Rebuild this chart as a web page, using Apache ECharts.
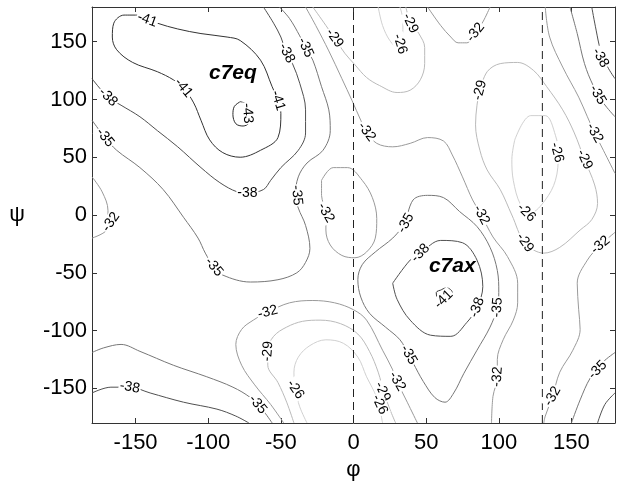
<!DOCTYPE html>
<html>
<head>
<meta charset="utf-8">
<script src="https://cdn.jsdelivr.net/npm/echarts@6/dist/echarts.min.js"></script>
<style>
  html, body { margin: 0; background: #fff; }
  #main { width: 622px; height: 488px; }
</style>
</head>
<body>
<div id="main"></div>
<script>
// axis ticks
const xTicks = [-150, -100, -50, 0, 50, 100, 150];
const yTicks = [-150, -100, -50, 0, 50, 100, 150];
const dashedPhi = [0, 130];

// contour lines, [phi, psi]
const eq43 = [[-78,98],[-74,96],[-72,89],[-72,80],[-76,77],[-81,79],[-83,87],[-82,94]];
const eq41 = [[-149,173],[-135,166],[-121,161],[-105,157],[-87,154],[-78,151],[-64,134],[-56,111],[-52,99],[-50,88],[-52,67],[-64,56],[-78,50],[-90,54],[-99,65],[-105,82],[-110,97],[-117,110],[-124,117],[-135,124],[-152,132],[-163,143],[-166,154],[-165,166],[-158,173]];
const eq38 = [[-180,118],[-169,102],[-160,95],[-147,85],[-135,73],[-121,59],[-105,41],[-92,28],[-80,20],[-73,19],[-62,22],[-57,30],[-50,41],[-38,56],[-33,71],[-33,91],[-37,114],[-42,131],[-46,140],[-50,154],[-55,166],[-62,180]];
const long35 = [[-51,180],[-44,170],[-37,155],[-33,145],[-28,134],[-22,111],[-17,91],[-16,73],[-21,56],[-32,45],[-38,33],[-40,17],[-38,6],[-33,-9],[-30,-29],[-33,-41],[-39,-50],[-52,-56],[-71,-58],[-90,-52],[-96,-45],[-102,-33],[-107,-20],[-117,-2],[-131,22],[-147,41],[-163,56],[-171,67],[-180,82]];
const mid32 = [[-33,180],[-26,164],[-17,142],[-8,118],[-1,99],[5,82],[9,72],[16,62],[27,59],[39,62],[51,67],[62,64],[68,52],[75,33],[82,13],[88,0],[96,-19],[106,-36],[113,-59],[113,-76],[110,-91],[103,-108],[99,-125],[99,-140],[96,-157],[95,-180]];
const small32 = [[-22,30],[-14,41],[-4,41],[6,30],[13,15],[16,-3],[15,-20],[9,-32],[1,-37],[-8,-35],[-16,-26],[-19,-13],[-19,2],[-22,17]];
const ax35 = [[36,-7],[41,13],[51,17],[62,15],[73,3],[85,-10],[94,-28],[99,-48],[100,-67],[99,-80],[94,-97],[85,-117],[76,-137],[69,-154],[63,-162],[56,-158],[48,-144],[41,-128],[38,-121],[32,-108],[22,-97],[11,-85],[5,-71],[3,-56],[6,-43],[15,-32],[27,-20]];
const ax38 = [[27,-59],[39,-39],[46,-33],[60,-22],[75,-24],[85,-39],[89,-62],[85,-80],[78,-93],[67,-105],[53,-104],[39,-91],[30,-73]];
const ax41 = [[60,-65],[64,-63],[68,-67],[67,-73],[62,-76],[58,-73],[57,-67]];
const top32 = [[51,180],[60,164],[67,154],[72,149],[78,149],[84,158],[89,167],[94,180]];
const top29 = [[-28,180],[-19,164],[-13,153],[-6,140],[1,130],[9,119],[18,112],[30,106],[39,108],[46,117],[49,131],[49,145],[45,157],[39,168],[36,180]];
const top26 = [[17,180],[20,164],[25,151],[31,144],[34,153],[34,168],[32,180]];
const right29 = [[87,108],[92,124],[101,131],[113,132],[124,125],[133,111],[144,91],[152,71],[159,48],[166,26],[168,10],[164,-4],[156,-13],[142,-28],[131,-33],[118,-24],[109,0],[101,22],[92,39],[87,56],[84,78],[85,95]];
const right26 = [[111,65],[122,86],[132,86],[139,69],[141,52],[139,30],[132,13],[122,2],[115,9],[110,30],[109,48]];
const rt38 = [[164,180],[167,160],[170,143],[175,128],[180,118]];
const rt35 = [[149,180],[154,157],[159,131],[165,112],[172,97],[180,85]];
const rt32 = [[132,180],[135,154],[144,128],[155,102],[161,85],[166,71],[172,56],[180,36]];
const left32 = [[-180,33],[-173,20],[-169,4],[-169,-11],[-180,-20]];
const rb32 = [[180,-15],[170,-26],[161,-39],[154,-59],[155,-82],[156,-99],[151,-117],[142,-136],[137,-157],[132,-174],[131,-180]];
const rb35 = [[180,-119],[172,-127],[163,-141],[156,-160],[150,-180]];
const rb38 = [[180,-154],[173,-164],[168,-180]];
const lb38 = [[-180,-154],[-167,-149],[-154,-149],[-140,-154],[-117,-162],[-94,-168],[-81,-174],[-72,-180]];
const lb35 = [[-180,-119],[-172,-115],[-160,-112],[-147,-118],[-124,-130],[-101,-140],[-83,-149],[-71,-158],[-63,-168],[-56,-180]];
const bot32 = [[-48,-180],[-57,-164],[-68,-147],[-77,-130],[-81,-112],[-77,-99],[-69,-91],[-59,-84],[-44,-76],[-28,-74],[-13,-76],[0,-82],[9,-91],[20,-117],[27,-134],[30,-144],[37,-162],[44,-180]];
const bot29 = [[-41,-180],[-46,-162],[-52,-145],[-59,-130],[-59,-117],[-55,-105],[-46,-97],[-35,-92],[-23,-91],[-9,-94],[3,-103],[11,-118],[17,-136],[21,-154],[25,-168],[29,-180]];
const bot26 = [[-32,-180],[-37,-166],[-40,-151],[-41,-136],[-38,-123],[-30,-113],[-19,-108],[-7,-111],[3,-123],[9,-140],[16,-158],[20,-180]];

// [phi, psi, text, angle]
const contourLabels = [
  [-142,169,'-41',-20], [-117,110,'-41',-50], [-52,99,'-41',-73], [-73,88,'-43',-85],
  [-169,102,'-38',-45], [-73,19,'-38',0], [-46,140,'-38',-63],
  [-33,145,'-35',-65], [-39,17,'-35',-85], [-96,-45,'-35',-50], [-171,67,'-35',-51],
  [9,72,'-32',-53], [88,0,'-32',-62], [99,-140,'-32',85], [-19,2,'-32',-60],
  [36,-7,'-35',61], [99,-80,'-35',85], [38,-121,'-35',-60],
  [46,-33,'-38',45], [85,-80,'-38',70], [62,-73,'-41',45],
  [84,158,'-32',51], [-13,153,'-29',-54], [39,166,'-29',-65], [32,148,'-26',-72],
  [87,108,'-29',75], [159,48,'-29',-65], [118,-24,'-29',-55],
  [140,54,'-26',-75], [119,2,'-26',-45],
  [170,136,'-38',-60], [168,104,'-35',-60], [166,71,'-32',-60],
  [-167,-6,'-32',55], [170,-26,'-32',40], [137,-157,'-32',60], [168,-134,'-35',45],
  [-154,-149,'-38',-10], [-66,-164,'-35',-50], [-59,-84,'-32',15], [30,-144,'-32',-60],
  [-59,-118,'-29',85], [20,-153,'-29',-65], [-40,-151,'-26',-55], [18,-164,'-26',-65]
];

const regionNames = [['c7eq', -83, 123], ['c7ax', 68, -44]];

const contours = [
  [-43, eq43, true], [-41, eq41, true], [-38, eq38, false], [-35, long35, false],
  [-32, mid32, false], [-32, small32, true], [-35, ax35, true], [-38, ax38, true],
  [-41, ax41, true], [-32, top32, false], [-29, top29, false], [-26, top26, false],
  [-29, right29, true], [-26, right26, true], [-38, rt38, false], [-35, rt35, false],
  [-32, rt32, false], [-32, left32, false], [-32, rb32, false], [-35, rb35, false],
  [-38, rb38, false], [-38, lb38, false], [-35, lb35, false], [-32, bot32, false],
  [-29, bot29, false], [-26, bot26, false]
];

const levelColor = {
  '-43': '#2a2a2a', '-41': '#333333', '-38': '#505050', '-35': '#777777',
  '-32': '#9a9a9a', '-29': '#bababa', '-26': '#d0d0d0'
};

const font = '"Liberation Sans", Arial, sans-serif';

const series = [];
contours.forEach(function (c) {
  series.push({
    type: 'line',
    data: c[2] ? c[1].concat([c[1][0]]) : c[1],
    symbol: 'none',
    smooth: 0.35,
    silent: true,
    lineStyle: { color: levelColor[c[0]], width: 1 },
    z: 2
  });
});
dashedPhi.forEach(function (p) {
  series.push({
    type: 'line',
    data: [[p, -180], [p, 180]],
    symbol: 'none',
    silent: true,
    lineStyle: { color: '#222', width: 1, type: [8, 5] },
    z: 3
  });
});
series.push({
  type: 'scatter',
  symbolSize: 0,
  silent: true,
  z: 5,
  itemStyle: { opacity: 1 },
  data: contourLabels.map(function (l) {
    return { value: [l[0], l[1]], name: l[2], label: { rotate: l[3] } };
  }),
  label: {
    show: true, formatter: '{b}', position: 'inside', color: '#000',
    fontSize: 14, fontFamily: font, backgroundColor: '#fff', padding: [0, 1]
  }
});
series.push({
  type: 'scatter',
  symbolSize: 0,
  silent: true,
  z: 6,
  itemStyle: { opacity: 1 },
  data: regionNames.map(function (r) { return { value: [r[1], r[2]], name: r[0] }; }),
  label: {
    show: true, formatter: '{b}', position: 'inside', color: '#000',
    fontSize: 21, fontWeight: 'bold', fontStyle: 'italic', fontFamily: font
  }
});

const axisColor = '#333';
function xAx(pos, main) {
  return {
    type: 'value', min: -180, max: 180, position: pos,
    axisLine: { show: true, onZero: false, lineStyle: { color: axisColor } },
    axisTick: { show: true, inside: true, length: 5, customValues: xTicks, lineStyle: { color: axisColor } },
    axisLabel: main ? { customValues: xTicks, fontSize: 22, color: '#000', margin: 9, fontFamily: font } : { show: false },
    splitLine: { show: false },
    name: main ? 'φ' : '', nameLocation: 'middle', nameGap: 35,
    nameTextStyle: { fontSize: 22, color: '#000', fontFamily: font }
  };
}
function yAx(pos, main) {
  return {
    type: 'value', min: -180, max: 180, position: pos,
    axisLine: { show: true, onZero: false, lineStyle: { color: axisColor } },
    axisTick: { show: true, inside: true, length: 5, customValues: yTicks, lineStyle: { color: axisColor } },
    axisLabel: main ? { customValues: yTicks, fontSize: 22, color: '#000', margin: 5, fontFamily: font } : { show: false },
    splitLine: { show: false },
    name: main ? 'ψ' : '', nameLocation: 'middle', nameGap: 67, nameRotate: 0,
    nameTextStyle: { fontSize: 22, color: '#000', fontFamily: font }
  };
}

const chart = echarts.init(document.getElementById('main'), null, { renderer: 'canvas' });
chart.setOption({
  animation: false,
  backgroundColor: '#fff',
  grid: { left: 92, right: 7, top: 7, bottom: 65 },
  xAxis: [xAx('bottom', true), xAx('top', false)],
  yAxis: [yAx('left', true), yAx('right', false)],
  series: series
});
</script>
</body>
</html>
